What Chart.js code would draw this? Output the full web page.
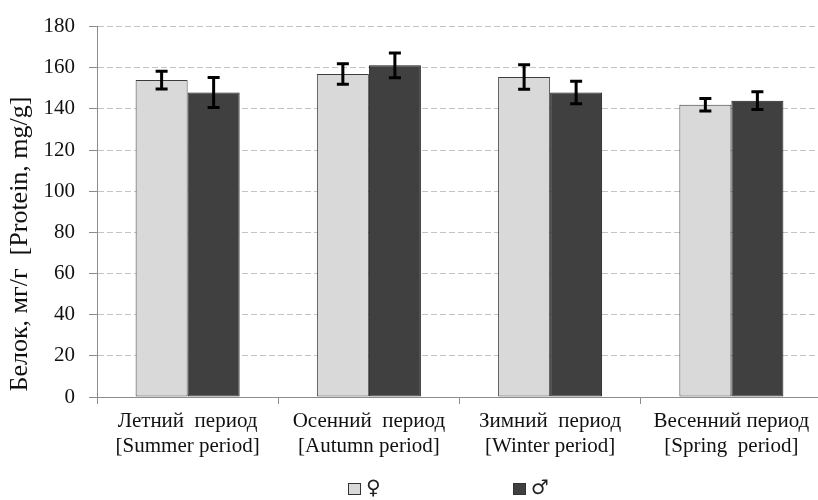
<!DOCTYPE html>
<html>
<head>
<meta charset="utf-8">
<script src="https://cdn.jsdelivr.net/npm/chart.js@4/dist/chart.umd.min.js"></script>
<style>
  html, body { margin: 0; padding: 0; background: #fff; overflow: hidden; }
  #wrap { width: 818px; height: 500px; overflow: hidden; }
  canvas { display: block; }
</style>
</head>
<body>
<div id="wrap"><canvas id="c" width="830" height="500"></canvas></div>
<script>
// Seasons (two-line category labels)
const categories = [
  ["Летний  период", "[Summer period]"],
  ["Осенний  период", "[Autumn period]"],
  ["Зимний  период", "[Winter period]"],
  ["Весенний период", "[Spring  period]"]
];
// Protein content, mg/g, with error (±)
const femaleValues = [154, 157, 155.5, 142];
const femaleErrors = [4.3, 5, 6, 3];
const maleValues = [148, 161.2, 148, 144];
const maleErrors = [7.3, 6, 5.5, 4.3];
const seriesLabels = ["♀", "♂"];
const yTicks = [0, 20, 40, 60, 80, 100, 120, 140, 160, 180];
const yTitle = "Белок, мг/г  [Protein, mg/g]";

const SERIF = "'Liberation Serif', 'Times New Roman', serif";

// Error bars drawn on top of each bar through the chart's own scales
const errorBars = {
  id: 'errorBars',
  afterDatasetsDraw(chart) {
    const ctx = chart.ctx;
    const y = chart.scales.y;
    chart.data.datasets.forEach((ds, di) => {
      const meta = chart.getDatasetMeta(di);
      meta.data.forEach((bar, i) => {
        const v = ds.data[i], e = ds.errors[i];
        const top = y.getPixelForValue(v + e);
        const bot = y.getPixelForValue(v - e);
        const x = bar.x;
        ctx.save();
        ctx.strokeStyle = '#000';
        ctx.lineWidth = 3;
        ctx.beginPath();
        ctx.moveTo(x, top); ctx.lineTo(x, bot);
        ctx.moveTo(x - 6, top); ctx.lineTo(x + 6, top);
        ctx.moveTo(x - 6, bot); ctx.lineTo(x + 6, bot);
        ctx.stroke();
        ctx.restore();
      });
    });
  }
};

// Rotated axis title and the bottom legend
const decorations = {
  id: 'decorations',
  afterDraw(chart) {
    const ctx = chart.ctx;
    ctx.save();
    ctx.translate(20, 244);
    ctx.rotate(-Math.PI / 2);
    ctx.font = '26px ' + SERIF;
    ctx.fillStyle = '#111';
    ctx.textAlign = 'center';
    ctx.textBaseline = 'middle';
    ctx.fillText(yTitle, 0, 0);
    ctx.restore();

    const items = [{x: 348}, {x: 513}];
    chart.data.datasets.forEach((ds, i) => {
      const bx = items[i].x, by = 483;
      ctx.save();
      ctx.fillStyle = ds.backgroundColor;
      ctx.strokeStyle = '#333';
      ctx.lineWidth = 1;
      ctx.fillRect(bx, by, 13, 12);
      ctx.strokeRect(bx + 0.5, by + 0.5, 12, 11);
      ctx.font = '20px "DejaVu Sans", sans-serif';
      ctx.fillStyle = '#222';
      ctx.textAlign = 'left';
      ctx.textBaseline = 'middle';
      ctx.fillText(ds.label, bx + 18, by + 6);
      ctx.restore();
    });
  }
};

new Chart(document.getElementById('c'), {
  type: 'bar',
  data: {
    labels: categories,
    datasets: [
      {
        label: seriesLabels[0],
        data: femaleValues,
        errors: femaleErrors,
        backgroundColor: '#d9d9d9',
        borderColor: '#3c3c3c',
        borderWidth: 1,
        borderSkipped: false
      },
      {
        label: seriesLabels[1],
        data: maleValues,
        errors: maleErrors,
        backgroundColor: '#404040',
        borderColor: '#1a1a1a',
        borderWidth: 1,
        borderSkipped: false
      }
    ]
  },
  options: {
    responsive: false,
    animation: false,
    devicePixelRatio: 1,
    layout: { padding: { top: 19, right: 8, left: 0, bottom: 0 } },
    datasets: { bar: { categoryPercentage: 0.574, barPercentage: 1.0 } },
    plugins: { legend: { display: false }, tooltip: { enabled: false } },
    scales: {
      x: {
        offset: true,
        grid: {
          offset: true,
          drawOnChartArea: false,
          drawTicks: true,
          tickLength: 7,
          tickColor: '#8c8c8c',
          color: '#8c8c8c'
        },
        border: { display: true, color: '#8c8c8c', width: 1 },
        ticks: {
          color: '#111',
          font: { family: SERIF, size: 21, lineHeight: 25 / 21 },
          padding: 5,
          maxRotation: 0,
          autoSkip: false
        },
        afterFit(scale) { scale.height = 103; }
      },
      y: {
        min: 0,
        max: 180,
        afterBuildTicks(scale) { scale.ticks = yTicks.map(v => ({ value: v })); },
        grid: {
          color: '#c4c4c4',
          lineWidth: 1,
          tickLength: 8,
          tickColor: '#8c8c8c',
          tickBorderDash: []
        },
        border: { display: true, color: '#8c8c8c', width: 1, dash: [6, 3] },
        ticks: {
          color: '#111',
          font: { family: SERIF, size: 21 },
          padding: 14
        },
        afterFit(scale) { scale.width = 97; }
      }
    }
  },
  plugins: [errorBars, decorations]
});
</script>
</body>
</html>
